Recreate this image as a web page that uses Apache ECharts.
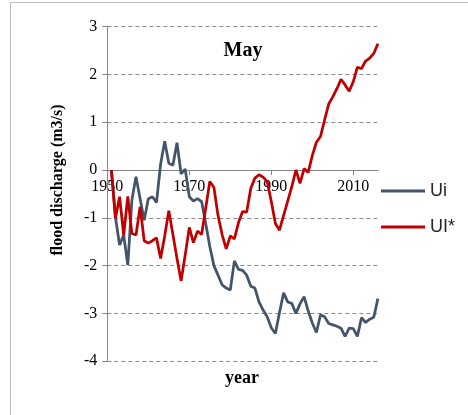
<!DOCTYPE html>
<html>
<head>
<meta charset="utf-8">
<title>May flood discharge</title>
<script src="https://cdn.jsdelivr.net/npm/echarts@6/dist/echarts.min.js"></script>
<style>
  html, body { margin: 0; padding: 0; background: #ffffff; }
  #chart { width: 468px; height: 415px; }
</style>
</head>
<body>
<div id="chart"></div>
<script>
// Years of record
var years = [
  1951, 1952, 1953, 1954, 1955, 1956, 1957, 1958, 1959, 1960,
  1961, 1962, 1963, 1964, 1965, 1966, 1967, 1968, 1969, 1970,
  1971, 1972, 1973, 1974, 1975, 1976, 1977, 1978, 1979, 1980,
  1981, 1982, 1983, 1984, 1985, 1986, 1987, 1988, 1989, 1990,
  1991, 1992, 1993, 1994, 1995, 1996, 1997, 1998, 1999, 2000,
  2001, 2002, 2003, 2004, 2005, 2006, 2007, 2008, 2009, 2010,
  2011, 2012, 2013, 2014, 2015, 2016
];

// Ui statistic
var ui = [
   0.00, -1.00, -1.57, -1.36, -1.99, -0.63, -0.14, -0.60, -1.05, -0.60,
  -0.56, -0.68,  0.12,  0.60,  0.14,  0.10,  0.57, -0.08,  0.02, -0.56,
  -0.65, -0.60, -0.66, -1.12, -1.60, -2.00, -2.20, -2.40, -2.47, -2.51,
  -1.90, -2.08, -2.10, -2.20, -2.43, -2.47, -2.76, -2.93, -3.07, -3.30,
  -3.42, -2.98, -2.57, -2.76, -2.79, -3.00, -2.80, -2.65, -2.95, -3.20,
  -3.40, -3.03, -3.07, -3.21, -3.24, -3.27, -3.31, -3.48, -3.31, -3.32,
  -3.48, -3.09, -3.19, -3.12, -3.08, -2.69
];

// UI* statistic
var uiStar = [
   0.00, -1.01, -0.56, -1.36, -0.55, -1.33, -1.36, -0.77, -1.48, -1.53,
  -1.48, -1.42, -1.85, -1.38, -0.85, -1.35, -1.85, -2.32, -1.78, -1.20,
  -1.52, -1.28, -1.35, -0.80, -0.24, -0.36, -0.95, -1.35, -1.65, -1.38,
  -1.44, -1.10, -0.87, -0.88, -0.38, -0.17, -0.10, -0.15, -0.24, -0.66,
  -1.12, -1.26, -0.95, -0.65, -0.35,  0.00, -0.28,  0.03, -0.05,  0.30,
   0.58,  0.70,  1.05,  1.38,  1.53,  1.70,  1.90,  1.78,  1.65,  1.85,
   2.15,  2.12,  2.28,  2.34,  2.44,  2.64
];

// Axis ticks
var yearTicks = [1950, 1970, 1990, 2010];
var yMin = -4, yMax = 3, yStep = 1;
var xMin = 1950, xMax = 2016;

function pairs(xs, ys) {
  return xs.map(function (x, i) { return [x, ys[i]]; });
}

var serif = '"Liberation Serif", "Times New Roman", serif';
var sans = '"Liberation Sans", Arial, sans-serif';
var axisGrey = '#868686';

// plot box
var gridLeft = 107.3, gridRight = 90.1, gridTop = 26.6, gridBottom = 53.8;
var plotHeight = 415 - gridTop - gridBottom;
// the year axis crosses the value axis at zero
var zeroOffset = -plotHeight * (0 - yMin) / (yMax - yMin);

var chart = echarts.init(document.getElementById('chart'), null, { renderer: 'canvas' });

chart.setOption({
  animation: false,
  backgroundColor: '#ffffff',
  grid: { left: gridLeft, right: gridRight, top: gridTop, bottom: gridBottom, containLabel: false },
  legend: {
    orient: 'vertical',
    left: 381,
    top: 182,
    padding: 0,
    icon: 'rect',
    itemWidth: 44,
    itemHeight: 3,
    itemGap: 18,
    textStyle: { fontFamily: sans, fontSize: 18, color: '#262626' },
    data: ['Ui', 'UI*']
  },
  xAxis: {
    type: 'value',
    min: xMin,
    max: xMax,
    position: 'bottom',
    offset: zeroOffset,
    axisLine: { onZero: false, lineStyle: { color: axisGrey, width: 1 } },
    axisTick: { show: true, customValues: yearTicks, length: 5, lineStyle: { color: axisGrey } },
    axisLabel: {
      customValues: yearTicks,
      margin: 9,
      fontFamily: serif,
      fontSize: 16,
      color: '#000000',
      formatter: function (v) { return String(v); }
    },
    splitLine: { show: false }
  },
  yAxis: {
    type: 'value',
    min: yMin,
    max: yMax,
    interval: yStep,
    axisLine: { show: true, lineStyle: { color: axisGrey, width: 1 } },
    axisTick: { show: true, length: 5, lineStyle: { color: axisGrey } },
    axisLabel: { margin: 10, fontFamily: serif, fontSize: 16, color: '#000000' },
    splitLine: { show: true, lineStyle: { color: '#8c8c8c', type: [4, 3], width: 1 } }
  },
  graphic: [
    {
      type: 'rect',
      silent: true,
      z: -10,
      shape: { x: 10.5, y: 2.5, width: 520, height: 460 },
      style: { fill: 'none', stroke: '#bfbfbf', lineWidth: 1 }
    },
    {
      type: 'text',
      x: 243, y: 51,
      style: {
        text: 'May',
        fontFamily: serif, fontWeight: 'bold', fontSize: 20,
        fill: '#000000', textAlign: 'center', textVerticalAlign: 'middle'
      }
    },
    {
      type: 'text',
      x: 242, y: 378,
      style: {
        text: 'year',
        fontFamily: serif, fontWeight: 'bold', fontSize: 18,
        fill: '#000000', textAlign: 'center', textVerticalAlign: 'middle'
      }
    },
    {
      type: 'text',
      x: 58, y: 180,
      rotation: Math.PI / 2,
      style: {
        text: 'flood discharge (m3/s)',
        fontFamily: serif, fontWeight: 'bold', fontSize: 16,
        fill: '#000000', textAlign: 'center', textVerticalAlign: 'middle'
      }
    }
  ],
  series: [
    {
      name: 'Ui',
      type: 'line',
      symbol: 'none',
      data: pairs(years, ui),
      lineStyle: { color: '#44546a', width: 2.75 },
      itemStyle: { color: '#44546a' },
      z: 2
    },
    {
      name: 'UI*',
      type: 'line',
      symbol: 'none',
      data: pairs(years, uiStar),
      lineStyle: { color: '#c00000', width: 2.75 },
      itemStyle: { color: '#c00000' },
      z: 3
    }
  ]
});
</script>
</body>
</html>
